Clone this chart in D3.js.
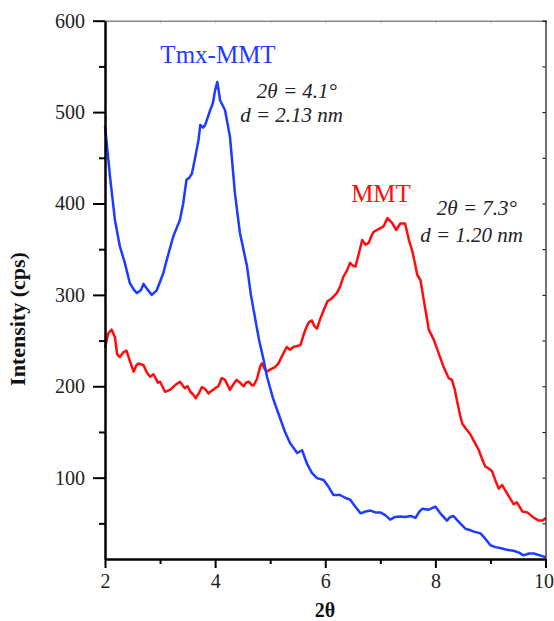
<!DOCTYPE html>
<html>
<head>
<meta charset="utf-8">
<script src="https://cdn.jsdelivr.net/npm/d3@7"></script>
<style>
  body { margin: 0; background: #fff; }
</style>
</head>
<body>
<svg id="chart" width="554" height="621"></svg>
<script>
// 2theta values and intensities (cps)
const tmxX = [2.00, 2.09, 2.18, 2.27, 2.36, 2.45, 2.52, 2.58, 2.65, 2.70, 2.77, 2.85, 2.94, 3.06, 3.12, 3.24, 3.36, 3.42, 3.48, 3.53, 3.58, 3.64, 3.70, 3.73, 3.78, 3.82, 3.91, 3.96, 4.00, 4.04, 4.09, 4.18, 4.27, 4.36, 4.45, 4.58, 4.65, 4.73, 4.80, 4.88, 4.94, 5.05, 5.18, 5.27, 5.36, 5.49, 5.58, 5.67, 5.76, 5.85, 5.97, 6.06, 6.15, 6.27, 6.36, 6.45, 6.55, 6.64, 6.73, 6.82, 6.91, 7.00, 7.09, 7.18, 7.27, 7.36, 7.45, 7.55, 7.64, 7.70, 7.76, 7.88, 8.00, 8.09, 8.21, 8.27, 8.33, 8.45, 8.55, 8.61, 8.70, 8.82, 8.91, 9.00, 9.09, 9.18, 9.30, 9.42, 9.52, 9.60, 9.70, 9.79, 9.90, 10.0];
const tmxY = [485, 430, 382, 353, 335, 313, 306, 302, 305, 312, 306, 300, 305, 324, 338, 364, 382, 400, 426, 428, 433, 451, 470, 486, 483, 486, 502, 510, 524, 533, 513, 502, 473, 411, 368, 331, 300, 273, 250, 229, 211, 187, 165, 150, 138, 127, 130, 115, 105, 99.5, 97.5, 90, 81, 81, 78, 76, 68, 61, 63, 64, 62, 62, 59, 54, 57, 57.6, 57, 58, 56, 62, 66, 65, 68.4, 61, 53, 57, 58, 50, 44, 43, 41, 39, 33, 26, 24, 23, 21, 20, 18, 15, 17, 17, 15, 13];

const mmtX = [2.00, 2.06, 2.12, 2.18, 2.22, 2.27, 2.33, 2.39, 2.45, 2.52, 2.57, 2.61, 2.70, 2.76, 2.82, 2.88, 2.91, 2.96, 3.00, 3.09, 3.18, 3.27, 3.36, 3.41, 3.45, 3.50, 3.55, 3.60, 3.65, 3.71, 3.76, 3.82, 3.88, 3.91, 3.96, 4.00, 4.06, 4.12, 4.18, 4.23, 4.27, 4.33, 4.39, 4.45, 4.52, 4.56, 4.61, 4.67, 4.70, 4.76, 4.82, 4.85, 4.90, 4.94, 5.02, 5.09, 5.15, 5.24, 5.30, 5.36, 5.42, 5.49, 5.55, 5.60, 5.64, 5.70, 5.76, 5.80, 5.85, 5.91, 5.97, 6.04, 6.09, 6.15, 6.21, 6.27, 6.33, 6.39, 6.45, 6.50, 6.55, 6.61, 6.67, 6.73, 6.79, 6.85, 6.88, 6.94, 7.00, 7.06, 7.13, 7.21, 7.29, 7.36, 7.45, 7.52, 7.58, 7.61, 7.67, 7.73, 7.79, 7.85, 7.88, 7.97, 8.06, 8.15, 8.24, 8.30, 8.35, 8.39, 8.45, 8.49, 8.55, 8.64, 8.70, 8.79, 8.85, 8.91, 8.97, 9.03, 9.09, 9.15, 9.21, 9.30, 9.36, 9.42, 9.48, 9.53, 9.58, 9.67, 9.73, 9.79, 9.88, 9.95, 10.0];
const mmtY = [242, 258, 262, 254, 235, 232, 237, 239, 228, 216, 223, 225, 223, 215, 210.5, 213, 210, 204, 205, 194, 196, 201, 205, 201, 198, 200, 194, 191, 187, 193, 199, 197, 192, 194, 196, 198, 200, 209, 207, 201, 196, 202, 207, 204, 200, 204, 205, 201, 201, 208, 222, 225, 219, 216, 219, 221, 225, 236, 243, 240, 243, 244, 245, 255, 262, 270, 272, 266, 263, 274, 283, 293, 295, 298, 302, 309, 320, 326, 335, 332, 331, 345, 360, 355, 357, 366, 369, 371, 373, 375, 384, 379, 371, 378, 378, 360, 348, 340, 322, 316, 294, 273, 262, 251, 236, 221, 209, 207, 197, 185, 168, 159, 154, 147, 140, 130, 120, 112, 110, 107, 97, 88, 92, 83, 77, 71, 73, 68, 63, 62, 59, 56, 53, 53, 56];

const xTicks = [2, 4, 6, 8, 10];
const yTicks = [100, 200, 300, 400, 500, 600];

const serif = '"Liberation Serif", "Times New Roman", serif';
const svg = d3.select("#chart");
const plotLeft = 105, plotRight = 545.5, plotTop = 20.7, plotBottom = 559;

const x = d3.scaleLinear().domain([2, 10]).range([plotLeft, plotRight]);
const y = d3.scaleLinear().domain([11, 600]).range([plotBottom, plotTop]);

const line = d3.line().x((d) => x(d[0])).y((d) => y(d[1]));

const tmx = tmxX.map((v, i) => [v, tmxY[i]]);
const mmt = mmtX.map((v, i) => [v, mmtY[i]]);

svg.append("path").datum(mmt).attr("d", line)
  .attr("fill", "none").attr("stroke", "#ff0d0d").attr("stroke-width", 2.5)
  .attr("stroke-linejoin", "round");
svg.append("path").datum(tmx).attr("d", line)
  .attr("fill", "none").attr("stroke", "#1e3cff").attr("stroke-width", 2.5)
  .attr("stroke-linejoin", "round");

// top and right frame
const topAx = svg.append("g").attr("transform", `translate(0,${plotTop})`)
  .call(d3.axisTop(x).tickValues(d3.range(3, 10, 1)).tickSize(-2).tickFormat(""));
topAx.select(".domain").attr("stroke", "#888").attr("stroke-width", 1.5);
topAx.selectAll(".tick line").attr("stroke", "#888");

const rightAx = svg.append("g").attr("transform", `translate(${plotRight},0)`)
  .call(d3.axisRight(y).tickValues(d3.range(50, 600, 50)).tickSize(-3).tickFormat(""));
rightAx.select(".domain").attr("stroke", "#111").attr("stroke-width", 1.2);

// bottom axis
const xMinor = svg.append("g").attr("transform", `translate(0,${plotBottom})`)
  .call(d3.axisBottom(x).tickValues([3, 5, 7, 9]).tickSize(5).tickFormat(""));
xMinor.select(".domain").remove();
xMinor.selectAll(".tick line").attr("stroke", "#000").attr("stroke-width", 2);

const xAx = svg.append("g").attr("transform", `translate(0,${plotBottom})`)
  .call(d3.axisBottom(x).tickValues(xTicks).tickSize(9).tickSizeOuter(0).tickPadding(6));
xAx.select(".domain").attr("stroke", "#000").attr("stroke-width", 2.5);
xAx.selectAll(".tick line").attr("stroke", "#000").attr("stroke-width", 2);
xAx.selectAll("text").style("font-size", "20px").style("font-family", serif).attr("fill", "#222")
  .attr("dx", (d) => (d === 10 ? -2 : 0));

// left axis
const yMinor = svg.append("g").attr("transform", `translate(${plotLeft},0)`)
  .call(d3.axisLeft(y).tickValues([50, 150, 250, 350, 450, 550]).tickSize(6).tickFormat(""));
yMinor.select(".domain").remove();
yMinor.selectAll(".tick line").attr("stroke", "#000").attr("stroke-width", 2);

const yAx = svg.append("g").attr("transform", `translate(${plotLeft},0)`)
  .call(d3.axisLeft(y).tickValues(yTicks).tickSize(12).tickSizeOuter(0).tickPadding(8));
yAx.select(".domain").attr("stroke", "#000").attr("stroke-width", 2.5);
yAx.selectAll(".tick line").attr("stroke", "#000").attr("stroke-width", 2);
yAx.selectAll("text").style("font-size", "20px").style("font-family", serif).attr("fill", "#222");

function label(px, py, str, size, opts = {}) {
  return svg.append("text").attr("x", px).attr("y", py)
    .attr("text-anchor", opts.anchor || "middle")
    .style("font-family", serif).style("font-size", `${size}px`)
    .style("font-style", opts.italic ? "italic" : "normal")
    .style("font-weight", opts.bold ? "bold" : "normal")
    .style("fill", opts.color || "#222")
    .text(str);
}

// axis titles
label(325, 617, "2θ", 20, { bold: true, color: "#111" });
label(0, 0, "Intensity (cps)", 22, { bold: true, color: "#111" })
  .attr("transform", "translate(25,319) rotate(-90)");

// annotations
label(218, 63, "Tmx-MMT", 25, { color: "#1e3cff" });
label(337, 98, "2θ = 4.1°", 21, { anchor: "end", italic: true });
label(343, 122, "d = 2.13 nm", 21, { anchor: "end", italic: true });

label(381, 202, "MMT", 25, { color: "#ff0d0d" });
label(517, 215, "2θ = 7.3°", 21, { anchor: "end", italic: true });
label(523, 242, "d = 1.20 nm", 21, { anchor: "end", italic: true });
</script>
</body>
</html>
